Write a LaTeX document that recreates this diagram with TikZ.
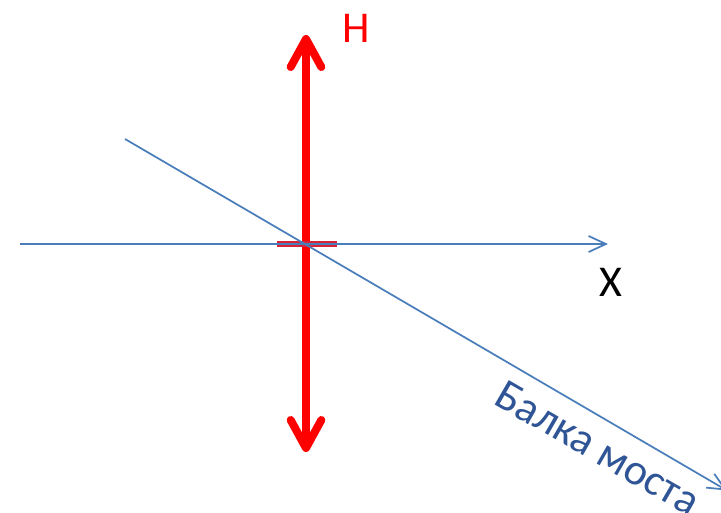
\documentclass[tikz,border=0pt]{standalone}
\usepackage{fontspec}
\setmainfont{Carlito}
\usetikzlibrary{arrows.meta}
\definecolor{axisblue}{RGB}{74,126,187}
\definecolor{beamtext}{RGB}{47,85,151}
\definecolor{tickred}{RGB}{215,35,55}
\tikzset{
	axisline/.style={draw=axisblue, line width=1.3pt, -{Straight Barb[length=13pt,width=12pt]}},
	forceline/.style={draw=red, line width=6pt, {Straight Barb[length=21pt,width=23pt,round]}-{Straight Barb[length=21pt,width=23pt,round]}},
	tickline/.style={draw=tickred, line width=4.5pt},
	biglabel/.style={inner sep=0pt, font=\fontsize{33}{33}\selectfont},
}
\begin{document}
\begin{tikzpicture}[x=0.75pt,y=0.75pt,yscale=-1,xscale=1]
	\useasboundingbox (0,0) rectangle (721,512);
	
	% Points
	\coordinate (hbottom) at (306,452);
	\coordinate (htop) at (306,35);
	\coordinate (tickleft) at (277,244);
	\coordinate (tickright) at (337,244);
	\coordinate (xstart) at (20,244);
	\coordinate (xend) at (608,244);
	\coordinate (beamstart) at (125,139);
	\coordinate (beamend) at (727,490.5);
	
	% Force H
	\draw [forceline] (hbottom) -- (htop);
	% Support mark
	\draw [tickline] (tickleft) -- (tickright);
	% Axis X
	\draw [axisline] (xstart) -- (xend);
	% Beam axis
	\draw [axisline] (beamstart) -- (beamend);
	
	% Text Nodes
	\node [biglabel, red] (hlabel) at (356,28) {H};
	\node [biglabel] (xlabel) at (611,282) {X};
	\node [biglabel, beamtext, rotate=-30] (beamlabel) at (598,448) {Балка моста};
	
\end{tikzpicture}
\end{document}
